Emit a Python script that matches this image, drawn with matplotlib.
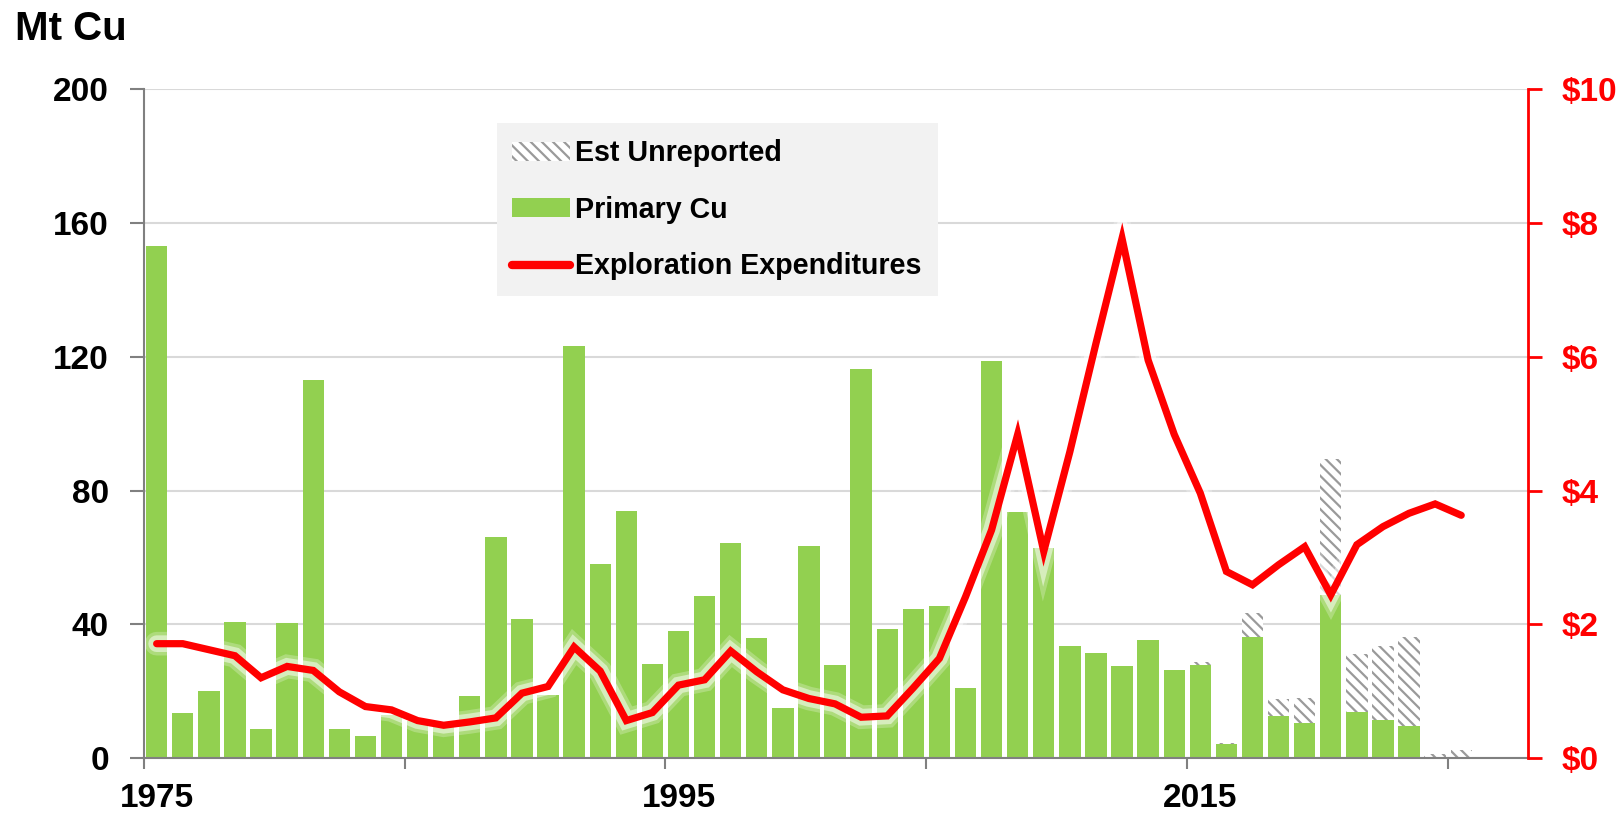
import matplotlib
matplotlib.use("Agg")
import matplotlib.pyplot as plt
import matplotlib.patheffects as pe
from matplotlib.patches import Patch
from matplotlib.lines import Line2D
import numpy as np

plt.rcParams['font.family'] = ['Liberation Sans', 'DejaVu Sans']
plt.rcParams['font.weight'] = 'bold'
plt.rcParams['hatch.linewidth'] = 1.6

years = list(range(1975, 2026))

# Mt Cu discovered, primary
primary_cu = [153, 13.4, 20.1, 40.8, 8.8, 40.3, 113.0, 8.8, 6.6, 13,
              11, 10, 18.5, 66.0, 41.6, 18.8, 123.1, 58.0, 74.0, 28.2,
              38.1, 48.6, 64.3, 36.0, 15.0, 63.5, 27.9, 116.4, 38.6, 44.6,
              45.5, 21.0, 118.8, 73.5, 62.8, 33.5, 31.3, 27.4, 35.2, 26.2,
              27.9, 4.2, 36.3, 12.7, 10.4, 48.8, 13.7, 11.3, 9.5, 0, 0]

# estimated unreported tonnage, stacked on top
est_unreported = [0] * 40 + [0.8, 0.3, 7.0, 5.0, 7.5, 40.5, 17.4, 22.2, 26.8, 1.2, 2.4]

# exploration spend, US$ billions
expenditures = [1.71, 1.71, 1.62, 1.53, 1.20, 1.37, 1.31, 0.99, 0.77, 0.72,
                0.56, 0.49, 0.54, 0.60, 0.97, 1.07, 1.66, 1.30, 0.56, 0.68,
                1.09, 1.17, 1.60, 1.29, 1.02, 0.89, 0.81, 0.61, 0.63, 1.05,
                1.49, 2.41, 3.41, 4.84, 3.09, 4.58, 6.2, 7.77, 5.95, 4.84,
                3.96, 2.79, 2.59, 2.89, 3.16, 2.44, 3.19, 3.46, 3.66, 3.80, 3.63]

left_ticks = [0, 40, 80, 120, 160, 200]
right_ticks = [0, 2, 4, 6, 8, 10]
year_labels = [1975, 1995, 2015]

GREEN = '#92d050'
GRAY = '#808080'
HATCH = '#9a9a9a'
RED = '#ff0000'

fig = plt.figure(figsize=(16.21, 8.15), dpi=100)
ax = fig.add_axes([0.0886, 0.0699, 0.8542, 0.8205])

x = np.array(years) + 0.5
ax.bar(x, primary_cu, width=0.82, color=GREEN, linewidth=0, zorder=2)
ax.bar(x, est_unreported, width=0.82, bottom=primary_cu, facecolor='white',
       edgecolor=HATCH, hatch='\\\\\\', linewidth=0, zorder=2)

ax.set_xlim(1975, 2028.07)
ax.set_ylim(0, 200)
ax.set_yticks(left_ticks)
ax.yaxis.grid(True, color='#d9d9d9', linewidth=1.5, zorder=0)
ax.set_axisbelow(True)

ax.set_xticks(range(1975, 2026, 10))
ax.set_xticklabels([])
ax.set_xticks([y + 0.5 for y in year_labels], minor=True)
ax.set_xticklabels([str(y) for y in year_labels], minor=True)
ax.tick_params(axis='x', which='major', length=8, width=1.5, color=GRAY)
ax.tick_params(axis='x', which='minor', length=0, pad=18, labelsize=24)
ax.tick_params(axis='y', length=10, width=1.5, color=GRAY, pad=15, labelsize=24)

for side in ['top', 'right']:
    ax.spines[side].set_visible(False)
for side in ['left', 'bottom']:
    ax.spines[side].set_color(GRAY)
    ax.spines[side].set_linewidth(1.5)

ax2 = ax.twinx()
ax2.set_ylim(0, 10)
ax2.set_yticks(right_ticks)
ax2.set_yticklabels(['$%d' % v for v in right_ticks])
ax2.tick_params(axis='y', length=10, width=2, color=RED, labelcolor=RED,
                pad=14, labelsize=24)
for side in ['top', 'left', 'bottom']:
    ax2.spines[side].set_visible(False)
ax2.spines['right'].set_color(RED)
ax2.spines['right'].set_linewidth(2)

ax2.plot(x, expenditures, color=RED, linewidth=5.2, solid_joinstyle='miter',
         solid_capstyle='round', zorder=3,
         path_effects=[pe.Stroke(linewidth=17, foreground='white', alpha=0.25),
                       pe.Stroke(linewidth=12, foreground='white', alpha=0.5),
                       pe.Normal()])

handles = [Patch(facecolor='white', edgecolor=HATCH, hatch='\\\\\\', linewidth=0),
           Patch(facecolor=GREEN, linewidth=0),
           Line2D([], [], color=RED, linewidth=6, solid_capstyle='round')]
labels = ['Est Unreported', 'Primary Cu', 'Exploration Expenditures']
leg = ax2.legend(handles, labels, loc='upper left', bbox_to_anchor=(0.255, 0.949),
                 frameon=True, fancybox=False, facecolor='#f2f2f2', edgecolor='none',
                 framealpha=1, borderpad=0.55, labelspacing=1.0, handlelength=2.0,
                 handleheight=0.65, handletextpad=0.2, borderaxespad=0,
                 prop={'weight': 'bold', 'size': 20.6})

fig.text(0.009, 1 - 40 / 815, 'Mt Cu', fontsize=29, fontweight='bold',
         va='baseline', ha='left')

fig.savefig('out.png', dpi=100)
